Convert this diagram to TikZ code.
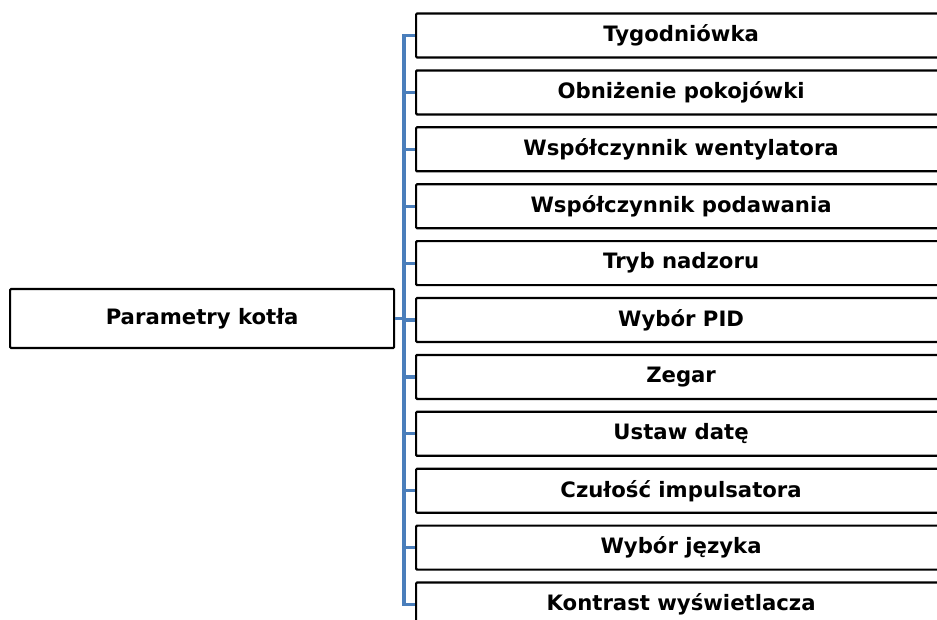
\documentclass[tikz,border=0pt]{standalone}
\usepackage{fontspec}
\setmainfont{DejaVu Sans}
\usepackage{tikz}

\definecolor{busblue}{RGB}{74,126,187}

\tikzset{
	menubox/.style={draw=black, line width=2.2pt, rounded corners=1pt, minimum height=44pt, anchor=west,
		font=\fontsize{21.2}{24}\selectfont\bfseries},
	branch/.style={draw=busblue, line width=3.2pt}
}

\begin{document}
\begin{tikzpicture}[x=1pt, y=-1pt]
	
	\clip (0, 0) rectangle (937, 619);
	
	\node[menubox, minimum width=384pt, minimum height=59pt] (root) at (9, 318.5) {Parametry kotła};
	\coordinate (bus) at (404, 318.5);
	\path[branch] (root.east) -- (bus);
	
	\foreach \name [count=\i] in {Tygodniówka, Obniżenie pokojówki, Współczynnik wentylatora,
		Współczynnik podawania, Tryb nadzoru, Wybór PID, Zegar, Ustaw datę,
		Czułość impulsatora, Wybór języka, Kontrast wyświetlacza} {
		\node[menubox, minimum width=530pt] (b\i) at (415, {35.5 + 56.9*(\i-1)}) {\name};
		\path[branch] (bus) |- (b\i.west);
	}
	
\end{tikzpicture}
\end{document}
